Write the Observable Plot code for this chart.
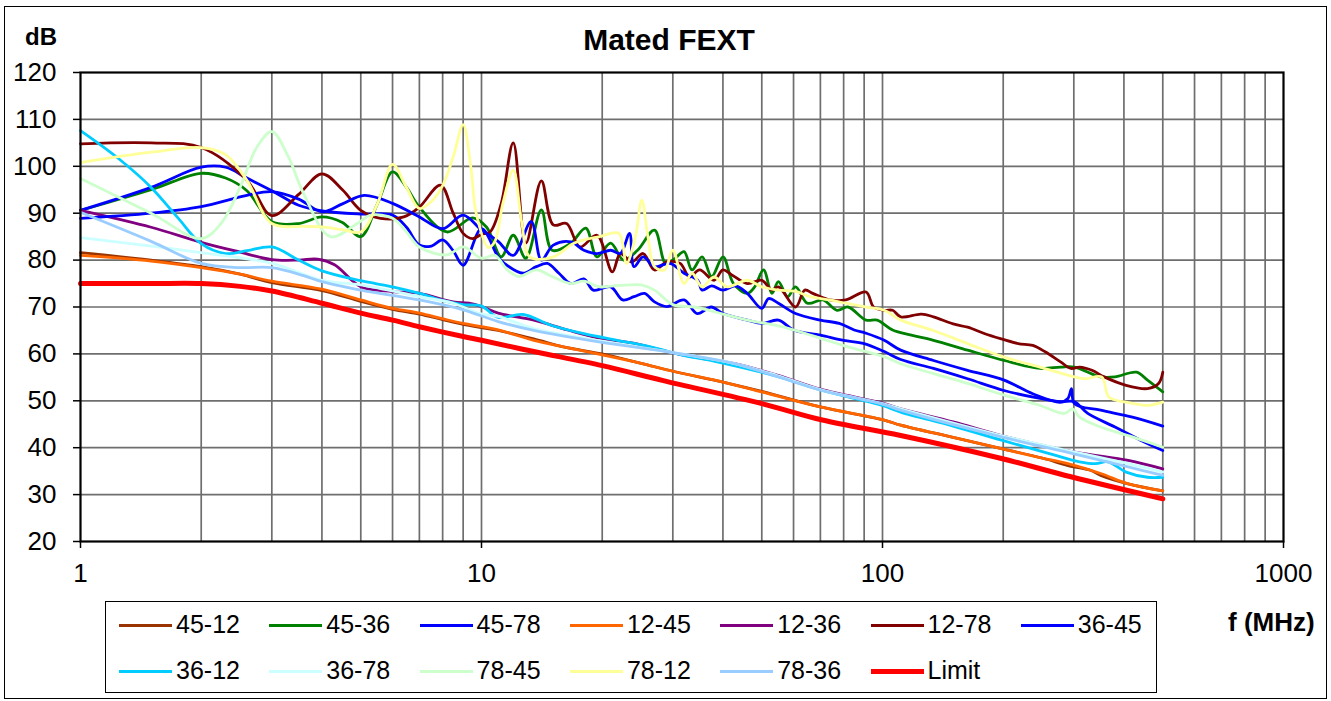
<!DOCTYPE html>
<html><head><meta charset="utf-8">
<script src="https://cdn.jsdelivr.net/npm/d3@7"></script>
<script src="https://cdn.jsdelivr.net/npm/@observablehq/plot@0.6"></script>
<style>
body{margin:0;background:#fff;font-family:"Liberation Sans",Arial,sans-serif;}
#wrap{position:relative;width:1331px;height:701px;overflow:hidden;background:#fff;}
#border{position:absolute;left:4px;top:6px;width:1323px;height:693px;border:1px solid #000;box-sizing:border-box;}
#chart{position:absolute;left:0;top:0;}
.t{position:absolute;white-space:nowrap;color:#000;line-height:1;}
#legend{position:absolute;left:105px;top:601px;width:1052px;height:92px;border:1px solid #000;box-sizing:border-box;}
.lg-line{position:absolute;}
</style></head><body>
<div id="wrap">
<div id="border"></div>
<div id="chart"></div>
<div class="t" id="title" style="left:669px;top:24.6px;font-size:30px;font-weight:bold;transform:translateX(-50%);">Mated FEXT</div>
<div class="t" style="left:25px;top:24.7px;font-size:24px;font-weight:bold;">dB</div>
<div class="t" style="left:1228px;top:609px;font-size:26px;font-weight:bold;">f (MHz)</div>
<div id="legend"></div>
</div>
<script>
// ---- data: [frequency MHz, dB] ----
const s45_12 = [[1,81.6],[1.5,80],[2,78.6],[2.5,77],[3,75.2],[4,73.5],[5,71.2],[6,69.5],[7,68.5],[8,67.3],[9,66.3],[10,65.6],[11,65],[13.5,63.2],[16,61.5],[20,60],[25,58],[30,56.3],[40,54],[50,52],[70,48.7],[101,45.9],[111,44.8],[150,42.2],[198,39.8],[250,37.8],[290,36.2],[330,35.2],[350,34.1],[410,32.3],[500,30.8]];
const s45_36 = [[1,90.6],[1.5,95],[2,98.5],[2.3,97.5],[2.6,94.8],[3,88.2],[3.5,87.8],[4,89.2],[4.5,88],[5,85],[5.5,92],[6,98.8],[6.5,95.5],[7,91.3],[8.2,86],[9.5,89],[10.3,87],[11.2,80.7],[12,85.3],[12.9,80.4],[14.1,90.7],[15,82.1],[16.7,83.6],[18.2,86.8],[19.4,80.7],[21,83.6],[22.6,80],[24.5,82.1],[27,86.4],[28.8,79.3],[30.5,80.5],[32,81.8],[33.5,77.9],[35.5,80.7],[37.5,76.5],[40,80.7],[42.5,75],[46,72.9],[48,74.3],[50.5,77.9],[53,72.9],[55,75.4],[58,72.2],[60.7,74.3],[65,70.8],[71,71.5],[77,69.3],[82,70],[91,67.2],[97,67.2],[106,65.1],[118,64],[134,62.9],[163,60.8],[201,58.6],[247,56.9],[278,57.2],[301,57.2],[350,55.1],[380,55.1],[430,56.1],[458,54.4],[500,51.9]];
const s45_78 = [[1,90.6],[1.5,95.5],[2,99.8],[2.3,99.8],[2.6,97.5],[3,94.8],[3.5,91.7],[4,90.5],[5,89.8],[6,89.6],[6.5,87],[7,83.2],[7.5,83],[8,84.3],[8.5,82],[9,78.9],[10,86.7],[11,80.7],[11.4,79.3],[12.7,77.2],[13.7,78.6],[14.6,79.3],[15.6,77.2],[16.7,75],[18,76],[19,73.6],[21,74.3],[22.5,71.5],[24,72.2],[25.5,72.9],[27,71.1],[29,70.1],[32,71.5],[34.5,68.6],[37.4,70],[40,68.6],[46,67.2],[50,66.5],[55,67.2],[60,65.1],[70,64],[80,62.9],[90,62.2],[101,60.5],[111,58.8],[134,56.9],[163,54.7],[201,52.2],[247,50.5],[278,49.8],[301,49.8],[325,47.3],[380,44.4],[440,41.6],[500,39.4]];
const s12_45 = [[1,81],[1.5,79.8],[2,78.4],[2.5,77],[3,75.5],[4,73.8],[5,71.5],[6,69.7],[7,68.7],[8,67.5],[9,66.5],[10,65.8],[11,65.1],[13.5,62.9],[16,61.5],[20,59.8],[25,58],[30,56.3],[40,54],[50,51.9],[70,48.7],[101,45.9],[111,44.8],[150,42.2],[198,39.8],[250,37.8],[290,36.6],[350,34.5],[410,32.3],[500,30.8]];
const s12_36 = [[1,90.6],[1.5,87],[2,83.8],[2.5,81.7],[3,80.1],[3.5,80],[3.9,80.2],[4.3,79],[5,74.3],[6,73.3],[7,72.9],[8.5,71.1],[9.3,70.8],[10,70.1],[11,68.7],[13.5,67.2],[16.4,65.1],[19.8,63.3],[23.9,62.3],[29,60.5],[35.2,59.1],[42.5,58],[54.6,55.5],[70,52.5],[100,49.5],[111,48.3],[150,45.5],[198,42.6],[300,39.1],[410,37.3],[500,35.5]];
const s12_78 = [[1,104.8],[1.5,105],[2,104],[2.6,97],[3,89.5],[3.5,94],[4,98.4],[4.5,95],[5,90.6],[5.6,88.9],[6.4,89.2],[7,91.3],[7.9,96],[8.5,90],[9,85.7],[9.5,84.6],[10,85.5],[10.5,86],[11.2,92.1],[12,105],[12.9,83.6],[14.1,96.9],[15.1,87.5],[16.3,87.8],[17.6,82.8],[19.4,85.3],[21.2,77.5],[22.2,81.4],[23.7,79.6],[25.3,81.4],[27,77.9],[29,79.6],[31.3,79.3],[33,76.4],[35,77.9],[38,75.7],[40,77.9],[42,76.9],[46,75],[50,75.7],[53,73.6],[55,74.3],[60.7,70],[64,73.6],[67,72.9],[74,71.5],[81,71.5],[91,73.2],[95,70],[101,69.3],[106,69.3],[111,67.9],[125,68.5],[134,67.9],[150,66.4],[163,65.7],[180,64.3],[198,63.2],[218,62.2],[237,61.8],[255,60.4],[278,58.3],[295,56.9],[310,57.2],[333,56.5],[357,55.1],[405,53.3],[458,52.6],[488,53.7],[500,56.1]];
const s36_45 = [[1,88.9],[1.5,90],[2,91.4],[2.6,93.8],[3,94.6],[3.5,93],[4,90.3],[4.5,92],[5.1,93.8],[6,92.1],[7,89.2],[8,86.7],[9,89.6],[10,86.4],[11,84],[12,81],[13.3,88.2],[14.1,80],[15.1,83.2],[16.7,83.9],[18,82.1],[19.4,81.4],[21,82.1],[22.2,81.4],[23.4,85.7],[24,78.6],[25.3,80.7],[27,78.6],[29.5,79.3],[32,77.2],[34.6,75.7],[35.5,73.6],[37.5,74.5],[40,73.6],[43,74.5],[46,72.9],[50,69.7],[52,71.8],[55,70.8],[60.7,68.6],[70,67.2],[78,66.5],[85,65.1],[91,64.4],[101,62.9],[111,60.8],[134,58.6],[163,56.5],[201,54.4],[237,51.5],[278,49.7],[290,50.5],[296,52.6],[301,49.4],[350,48],[420,46.5],[500,44.6]];
const s36_12 = [[1,107.6],[1.25,101.5],[1.5,95.5],[1.75,89],[2,83.5],[2.3,81.4],[2.6,82],[3,82.8],[3.5,80],[4,77.7],[5,75.6],[6,74.3],[7,72.9],[8,71.4],[9,70.5],[10,70.2],[11,67.8],[12.7,68.4],[14.9,66.1],[18,64.3],[21.8,62.9],[26.4,61.5],[31.9,59.7],[38.7,58.3],[54.6,55.2],[70,52.3],[100,49],[111,47.6],[150,44.6],[198,41.6],[262,38.7],[310,37],[340,36.6],[365,37],[405,34.8],[458,33.7],[500,33.7]];
const s36_78 = [[1,84.8],[1.5,83],[2,81.6],[3,79.3],[4,75.7],[5,74.7],[7,72.2],[8.5,70.8],[9.8,68.7],[10.5,68.2],[11,68],[13.5,65.4],[20,62.7],[29,60.5],[42.5,58],[54.6,55.4],[70,52.4],[100,49.4],[111,48.3],[198,42.6],[300,39.1],[410,36.6],[500,34.8]];
const s78_45 = [[1,97.4],[1.5,90],[2,84.6],[2.25,88],[2.5,95.5],[2.75,104],[3,107.4],[3.3,102],[3.6,94.2],[4.2,85],[4.9,87.8],[5.3,89.6],[6,88.9],[6.5,86],[7,82.8],[8.2,81.1],[9,82.8],[10,80.4],[10.8,81],[11.6,77.9],[12.4,76.5],[13.7,77.9],[15,76.5],[16.7,75],[18,75.5],[19.7,74.3],[22,74.6],[25,74.7],[27,73.6],[30,70.5],[34,70],[37,69.3],[40,68.5],[46,67.2],[56,65.8],[68,63.7],[82,61.5],[101,59.4],[111,57.9],[134,55.8],[163,53.7],[201,51.2],[247,49],[284,47.3],[298,48.3],[310,46.5],[350,44.4],[420,42.3],[500,40.1]];
const s78_12 = [[1,100.8],[1.5,103],[2,104],[2.3,102.5],[2.6,97],[3,87.8],[3.6,87.2],[4,87.1],[4.5,86.5],[5,86],[5.5,92],[6,100.4],[6.5,95.5],[7,91],[7.5,92.5],[8,95.9],[8.5,102],[9,108.9],[9.4,100],[9.7,90],[10.4,82.7],[10.8,84],[11.3,92],[12,99.2],[12.6,88],[13.2,80.7],[15.1,80.7],[17,83.6],[19.7,85],[22,85.7],[23,79.3],[24.2,85],[25.1,92.8],[26,85],[27,78.6],[28.6,77.9],[30,82.1],[32,75],[33.5,77.2],[35.5,74.3],[38,76.4],[41,74.3],[46,75.7],[50,74.3],[55,73.6],[61,73.3],[66,72.2],[74,71.5],[81,70.8],[91,70],[101,69.3],[111,67.2],[134,65],[163,62.2],[201,59.3],[247,57.2],[301,55.1],[320,54.7],[352,55.1],[367,50.8],[405,49.7],[458,49],[500,49.7]];
const s78_36 = [[1,90.2],[1.5,84],[2,79.3],[2.5,78.4],[3,78.4],[3.6,76.7],[4,75.4],[5,73.6],[7,71.5],[9,69.4],[11,66.9],[13.5,65],[19.8,62.5],[29,60.5],[42.5,58],[54.6,55.2],[70,52.3],[100,49.3],[111,48],[198,42.3],[300,38.7],[410,35.9],[500,34.1]];
const sLimit = [[1,75],[1.5,75],[2,75],[2.5,74.4],[3,73.4],[4,70.8],[5,68.7],[6,67.2],[7,65.8],[9,63.7],[10,62.9],[13.5,60.5],[20,57.5],[28.4,54.3],[50,49.4],[70.8,45.9],[111,42.6],[198,37.7],[295,33.8],[500,29.1]];

const seriesNames = ["45-12","45-36","45-78","12-45","12-36","12-78","36-45","36-12","36-78","78-45","78-12","78-36","Limit"];
const seriesColors = ["#993300","#008000","#0000FF","#FF6600","#800080","#800000","#0000FF","#00CCFF","#CCFFFF","#CCFFCC","#FFFF99","#99CCFF","#FF0000"];
const seriesData = [s45_12,s45_36,s45_78,s12_45,s12_36,s12_78,s36_45,s36_12,s36_78,s78_45,s78_12,s78_36,sLimit];
const xTickLabels = [1,10,100,1000];
const yTicks = [20,30,40,50,60,70,80,90,100,110,120];

const xGrid = [];
for (const d of [1,10,100]) for (let k = 1; k <= 9; k++) xGrid.push(d*k);

const lineMarks = seriesData.map((data, i) =>
  Plot.line(data, {x: d => d[0], y: d => d[1], stroke: seriesColors[i],
    strokeWidth: seriesNames[i] === "Limit" ? 5 : 2.8, curve: "catmull-rom"}));

const chart = Plot.plot({
  width: 1331, height: 701,
  marginLeft: 80, marginRight: 48, marginTop: 72, marginBottom: 160,
  x: {type: "log", domain: [1, 1000]},
  y: {domain: [20, 120]},
  style: {fontFamily: "'Liberation Sans', Arial, sans-serif", fontSize: "26px", color: "#000", background: "transparent"},
  marks: [
    Plot.ruleX(xGrid.slice(1), {stroke: "#6e6e6e", strokeWidth: 1.7}),
    Plot.ruleY(yTicks.slice(1, -1), {stroke: "#6e6e6e", strokeWidth: 1.7}),
    ...lineMarks,
    Plot.frame({stroke: "#000", strokeWidth: 2.2}),
    Plot.axisX(xTickLabels, {tickSize: 7, tickPadding: 15, tickFormat: d => String(d), fontSize: 26, strokeWidth: 1.5, label: null}),
    Plot.axisY(yTicks, {tickSize: 7, tickPadding: 17, fontSize: 26, strokeWidth: 1.5, label: null})
  ]
});
document.getElementById("chart").appendChild(chart);

// legend
const legend = document.getElementById("legend");
seriesNames.forEach((name, i) => {
  const col = i % 7, row = Math.floor(i / 7);
  const lx = 118 + col * 150.3 - 105;
  const ly = (row === 0 ? 624.3 : 670) - 601;
  const lw = name === "Limit" ? 5 : 3;
  const line = document.createElement("div");
  line.className = "lg-line";
  line.style.cssText = `left:${lx}px;top:${ly - lw/2}px;width:53px;height:${lw}px;background:${seriesColors[i]};`;
  legend.appendChild(line);
  const txt = document.createElement("div");
  txt.className = "t";
  const base = (row === 0 ? 632 : 678) - 601;
  txt.style.cssText = `left:${lx + 57}px;top:${base - 0.8465*25}px;font-size:25px;`;
  txt.textContent = name;
  legend.appendChild(txt);
});
</script>
</body></html>
